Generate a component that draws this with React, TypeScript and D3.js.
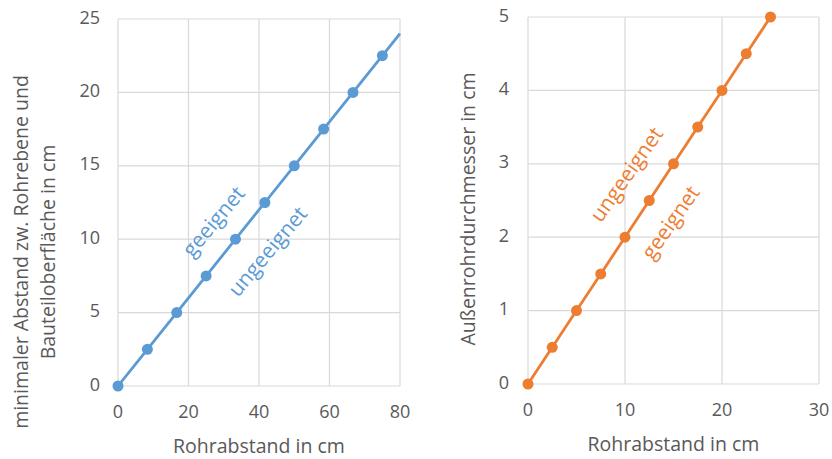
import React from "react";
import * as d3 from "d3";

// Left chart data
const leftX = [0, 8.333, 16.667, 25, 33.333, 41.667, 50, 58.333, 66.667, 75];
const leftY = [0, 2.5, 5, 7.5, 10, 12.5, 15, 17.5, 20, 22.5];
const leftLineEnd = [80, 24];
const leftXTicks = [0, 20, 40, 60, 80];
const leftYTicks = [0, 5, 10, 15, 20, 25];

// Right chart data
const rightX = [0, 2.5, 5, 7.5, 10, 12.5, 15, 17.5, 20, 22.5, 25];
const rightY = [0, 0.5, 1, 1.5, 2, 2.5, 3, 3.5, 4, 4.5, 5];
const rightXTicks = [0, 10, 20, 30];
const rightYTicks = [0, 1, 2, 3, 4, 5];

const FONT = "'Open Sans', sans-serif";
const TICK_COLOR = "#595959";
const GRID = "#D9D9D9";

type PanelProps = {
  x0: number; x1: number; y0: number; y1: number;
  xDomain: [number, number]; yDomain: [number, number];
  xTicks: number[]; yTicks: number[];
  xs: number[]; ys: number[];
  extra?: number[] | null;
  color: string;
  xTitle: string;
  yTitle: string[];
  yTitleX: number[];
  yTitleY: number;
  yTickGap: number;
  labels: { text: string; x: number; y: number; angle: number }[];
};

function Panel(p: PanelProps) {
  const xs = d3.scaleLinear().domain(p.xDomain).range([p.x0, p.x1]);
  const ys = d3.scaleLinear().domain(p.yDomain).range([p.y0, p.y1]);
  const pts: [number, number][] = p.xs.map((v, i) => [v, p.ys[i]]);
  const linePts = p.extra ? [...pts, [p.extra[0], p.extra[1]] as [number, number]] : pts;
  const line = d3.line<[number, number]>().x(d => xs(d[0])).y(d => ys(d[1]));
  return (
    <g>
      {p.xTicks.map(t => (
        <line key={"gx" + t} x1={xs(t)} x2={xs(t)} y1={p.y0} y2={p.y1} stroke={GRID} strokeWidth={1.2} />
      ))}
      {p.yTicks.map(t => (
        <line key={"gy" + t} x1={p.x0} x2={p.x1} y1={ys(t)} y2={ys(t)} stroke={GRID} strokeWidth={1.2} />
      ))}
      {p.xTicks.map(t => (
        <text key={"tx" + t} x={xs(t)} y={p.y0 + 32} textAnchor="middle" fontSize={18} fill={TICK_COLOR} fontFamily={FONT}>{t}</text>
      ))}
      {p.yTicks.map(t => (
        <text key={"ty" + t} x={p.x0 - p.yTickGap} y={ys(t) + 4.5} textAnchor="end" fontSize={18} fill={TICK_COLOR} fontFamily={FONT}>{t}</text>
      ))}
      <path d={line(linePts) || ""} fill="none" stroke={p.color} strokeWidth={2.8} />
      {pts.map((d, i) => (
        <circle key={"c" + i} cx={xs(d[0])} cy={ys(d[1])} r={5.5} fill={p.color} />
      ))}
      <text x={(p.x0 + p.x1) / 2} y={p.y0 + 67} textAnchor="middle" fontSize={19.5} fill={TICK_COLOR} fontFamily={FONT}>{p.xTitle}</text>
      {p.yTitle.map((s, i) => (
        <text key={"yt" + i} transform={`translate(${p.yTitleX[i]},${p.yTitleY}) rotate(-90)`} textAnchor="middle" fontSize={19.5} fill={TICK_COLOR} fontFamily={FONT}>{s}</text>
      ))}
      {p.labels.map((l, i) => (
        <text key={"l" + i} transform={`translate(${l.x},${l.y}) rotate(${l.angle})`} textAnchor="middle" dominantBaseline="central" fontSize={21} fill={p.color} fontFamily={FONT}>{l.text}</text>
      ))}
    </g>
  );
}

export default function App() {
  return (
    <svg width={832} height={459} style={{ display: "block", position: "absolute", left: 0, top: 0, background: "#fff" }}>
      <Panel
        x0={118} x1={400} y0={386} y1={19}
        xDomain={[0, 80]} yDomain={[0, 25]}
        xTicks={leftXTicks} yTicks={leftYTicks}
        xs={leftX} ys={leftY} extra={leftLineEnd}
        color="#5B9BD5"
        xTitle="Rohrabstand in cm"
        yTitle={["minimaler Abstand zw. Rohrebene und", "Bauteiloberfläche in cm"]}
        yTitleX={[28, 55]} yTitleY={252}
        yTickGap={18}
        labels={[
          { text: "geeignet", x: 213, y: 221, angle: -50 },
          { text: "ungeeignet", x: 267, y: 251, angle: -50 },
        ]}
      />
      <Panel
        x0={528} x1={819} y0={384} y1={17}
        xDomain={[0, 30]} yDomain={[0, 5]}
        xTicks={rightXTicks} yTicks={rightYTicks}
        xs={rightX} ys={rightY} extra={null}
        color="#ED7D31"
        xTitle="Rohrabstand in cm"
        yTitle={["Außenrohrdurchmesser in cm"]}
        yTitleX={[475]} yTitleY={209}
        yTickGap={19}
        labels={[
          { text: "ungeeignet", x: 626, y: 174, angle: -55 },
          { text: "geeignet", x: 670, y: 222, angle: -55 },
        ]}
      />
    </svg>
  );
}
